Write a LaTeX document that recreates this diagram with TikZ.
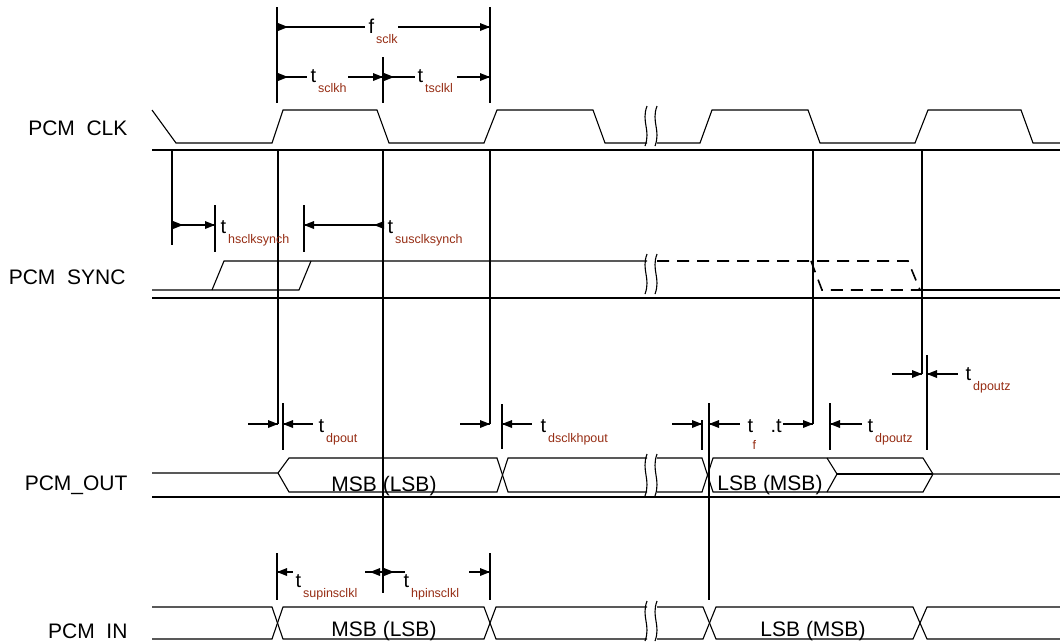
\documentclass[tikz,border=0pt]{standalone}
\usepackage{fontspec}
\setmainfont{Liberation Sans}
\definecolor{subred}{RGB}{150,45,20}
\newcommand{\tipR}[2]{\fill (#1,#2) -- ++(-10,-4) -- ++(0,8) -- cycle;}
\newcommand{\tipL}[2]{\fill (#1,#2) -- ++(10,-4) -- ++(0,8) -- cycle;}
\newcommand{\tlab}[5]{\node[anchor=base west,inner sep=0pt] (#1) at (#2,#3) {\fontsize{20}{20}\selectfont #4\kern2pt\raisebox{-10pt}{\color{subred}\fontsize{12.5}{12.5}\selectfont #5}};}
\newcommand{\brk}[3]{\draw (#1+2,#2) .. controls (#1-4,#2+0.4*#3) and (#1+6,#2+0.6*#3) .. (#1,#2+#3);}
\begin{document}
\begin{tikzpicture}[x=1pt,y=-1pt,line width=1.1pt,
  sep/.style={line width=1.3pt},
  dsh/.style={line width=1.6pt,dash pattern=on 12pt off 8pt},
  lbl/.style={anchor=base east,inner sep=0pt,font=\fontsize{21}{21}\selectfont}]
\useasboundingbox (0,0) rectangle (1060,641);

% signal names
\node[lbl] (lclk) at (128,135) {PCM\ \ CLK};
\node[lbl] (lsync) at (126,284) {PCM\ \ SYNC};
\node[lbl] (lout) at (128,490) {PCM\_OUT};
\node[lbl] (lin) at (128,638) {PCM\ \ IN};

% separators
\draw[sep] (152,150) -- (1060,150);
\draw[sep] (152,298) -- (1060,298);
\draw[sep] (152,497) -- (1060,497);

% PCM CLK
\draw (152,110) -- (176,143) -- (272,143) -- (283,110) -- (377,110) -- (389,143) -- (484,143) -- (497,110) -- (593,110) -- (605,143) -- (647,143);
\draw (657,143) -- (700,143) -- (712,110) -- (808,110) -- (820,143) -- (915,143) -- (928,110) -- (1021,110) -- (1033,143) -- (1060,143);
\brk{645}{106}{40} \brk{655}{106}{40}

% PCM SYNC
\draw (152,290) -- (299,290) -- (311,261);
\draw (212,290) -- (224,261) -- (647,261);
\draw[dsh] (657,261) -- (908,261) -- (920,290);
\draw[dsh] (811,261) -- (822,290) -- (920,290);
\draw (920,290) -- (1060,290);
\brk{645}{254}{40} \brk{655}{254}{40}

% PCM_OUT
\draw (152,473) -- (278,473) -- (289,458) -- (497,458) -- (508,492) -- (647,492);
\draw (278,473) -- (289,492) -- (497,492) -- (508,458) -- (647,458);
\draw (657,458) -- (702,458) -- (713,492) -- (923,492) -- (933,474) -- (1060,474);
\draw (657,492) -- (702,492) -- (713,458) -- (923,458) -- (933,474);
\draw (827,458) -- (837,474) -- (827,492);
\draw (837,474) -- (933,474);
\brk{645}{454}{42} \brk{655}{454}{42}
\node[anchor=base,inner sep=0pt,font=\fontsize{21}{21}\selectfont] (msbo) at (384,491) {MSB (LSB)};
\node[anchor=base,inner sep=0pt,font=\fontsize{21}{21}\selectfont] (lsbo) at (770,490) {LSB (MSB)};

% PCM IN
\draw (152,607) -- (272,607) -- (283,639) -- (484,639) -- (496,607) -- (647,607);
\draw (152,639) -- (272,639) -- (283,607) -- (484,607) -- (496,639) -- (647,639);
\draw (657,607) -- (703,607) -- (716,639) -- (913,639) -- (927,607) -- (1060,607);
\draw (657,639) -- (703,639) -- (716,607) -- (913,607) -- (927,639) -- (1060,639);
\brk{645}{601}{40} \brk{655}{601}{40}
\node[anchor=base,inner sep=0pt,font=\fontsize{21}{21}\selectfont] (msbi) at (384,636) {MSB (LSB)};
\node[anchor=base,inner sep=0pt,font=\fontsize{21}{21}\selectfont] (lsbi) at (813,636) {LSB (MSB)};

% reference verticals
\draw (277,7) -- (277,103);
\draw (490,7) -- (490,103);
\draw (383,57) -- (383,103);
\draw (172,150) -- (172,245);
\draw (278,150) -- (278,424);
\draw (383,150) -- (383,593);
\draw (490,150) -- (490,424);
\draw (813,150) -- (813,424);
\draw (922,150) -- (922,374);
% bars
\draw (215,205) -- (215,252);
\draw (304,205) -- (304,252);
\draw (283,403) -- (283,450);
\draw (502,404) -- (502,449);
\draw (702,420) -- (702,450);
\draw (709,403) -- (709,600);
\draw (830,403) -- (830,450);
\draw (927,355) -- (927,450);
\draw (277,553) -- (277,600);
\draw (490,553) -- (490,600);

% f_sclk
\draw (277,27) -- (365,27); \draw (398,27) -- (490,27);
\tipR{288}{27} \tipR{490}{27}
\tlab{fsclk}{368}{33}{f}{sclk}
% t_sclkh, t_sclkl
\draw (277,77) -- (307,77); \draw (348,77) -- (383,77);
\tipR{288}{77} \tipR{383}{77}
\tlab{tsclkh}{310}{82}{t}{sclkh}
\draw (383,77) -- (415,77); \draw (457,77) -- (490,77);
\tipR{394}{77} \tipR{490}{77}
\tlab{tsclkl}{417}{82}{t}{tsclkl}

% sync timings
\draw (172,225) -- (215,225);
\tipR{183}{225} \tipR{215}{225}
\tlab{thsync}{220}{233}{t}{hsclksynch}
\draw (304,225) -- (383,225);
\tipL{304}{225} \tipL{374}{225}
\tlab{tsusync}{387}{233}{t}{susclksynch}

% output timings
\draw (248,424) -- (278,424); \tipR{278}{424}
\draw (283,424) -- (313,424); \tipL{283}{424}
\tlab{tdpout}{318}{432}{t}{dpout}
\draw (460,424) -- (490,424); \tipR{490}{424}
\draw (502,424) -- (532,424); \tipL{502}{424}
\tlab{tdsclk}{540}{432}{t}{dsclkhpout}
\draw (672,424) -- (702,424); \tipR{702}{424}
\draw (709,424) -- (740,424); \tipL{709}{424}
\node[anchor=base west,inner sep=0pt,font=\fontsize{20}{20}\selectfont] (tf) at (747,432) {t};
\node[anchor=base west,inner sep=0pt,font=\fontsize{12.5}{12.5}\selectfont,text=subred] (tfs) at (752,449) {f};
\node[anchor=base west,inner sep=0pt,font=\fontsize{20}{20}\selectfont] (tft) at (770,432) {.t};
\draw (783,424) -- (813,424); \tipR{813}{424}
\draw (830,424) -- (862,424); \tipL{830}{424}
\tlab{tdpoutz}{867}{432}{t}{dpoutz}
\draw (892,374) -- (922,374); \tipR{922}{374}
\draw (927,374) -- (958,374); \tipL{927}{374}
\tlab{tdpoutzb}{965}{380}{t}{dpoutz}

% input timings
\draw (277,572) -- (293,572); \tipL{277}{572}
\tlab{tsupin}{295}{587}{t}{supinsclkl}
\draw (365,572) -- (405,572); \tipL{370}{572} \tipR{394}{572}
\tlab{thpin}{403}{587}{t}{hpinsclkl}
\draw (469,572) -- (490,572); \tipR{490}{572}
\end{tikzpicture}
\end{document}
